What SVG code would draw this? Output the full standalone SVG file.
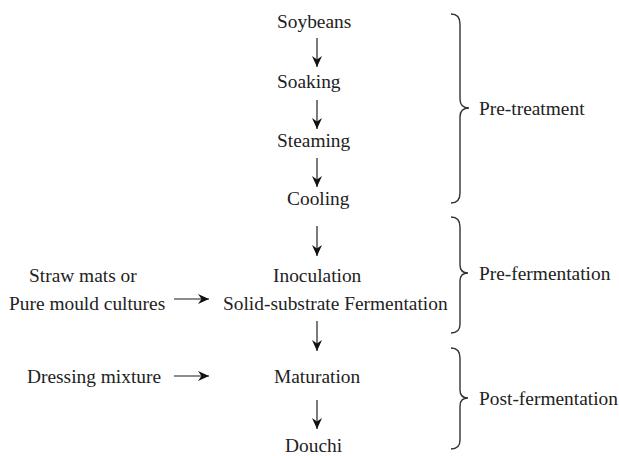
<svg xmlns="http://www.w3.org/2000/svg" width="619" height="456" viewBox="0 0 619 456">
<style>
text{font-family:"Liberation Serif","Times New Roman",serif;font-size:19.4px;fill:#222}
.c{stroke:#333;stroke-width:1.3;fill:none}
.h{stroke:#666;stroke-width:1.3;fill:none}
.b{stroke:#333;stroke-width:1.4;fill:none}
</style>
<defs>
<marker id="ah" viewBox="-11 -5 11 10" refX="0" refY="0" markerWidth="11" markerHeight="10" markerUnits="userSpaceOnUse" orient="auto">
<path d="M0,0 L-11,-5 L-7.5,0 L-11,5 Z" fill="#111"/>
</marker>
</defs>
<rect width="619" height="456" fill="#fff"/>
<g id="soybeans"><text x="277" y="28">Soybeans</text></g>
<g id="soaking"><text x="277" y="88">Soaking</text></g>
<g id="steaming"><text x="277" y="147">Steaming</text></g>
<g id="cooling"><text x="287" y="205">Cooling</text></g>
<g id="inoculation"><text x="273" y="282">Inoculation</text><text x="223" y="310">Solid-substrate Fermentation</text></g>
<g id="maturation"><text x="274" y="383">Maturation</text></g>
<g id="douchi"><text x="285" y="451.5">Douchi</text></g>
<g id="straw"><text x="29" y="282">Straw mats or</text><text x="9" y="310">Pure mould cultures</text></g>
<g id="dressing"><text x="27" y="383">Dressing mixture</text></g>
<g id="pretreatment"><path class="b" d="M451,14 Q460,14 460,24 L460,99 Q460,108 469,108 Q460,108 460,117 L460,193 Q460,203 451,203"/><text x="479" y="115">Pre-treatment</text></g>
<g id="prefermentation"><path class="b" d="M451,217 Q460,217 460,227 L460,265 Q460,273 468,273 Q460,273 460,281 L460,324 Q460,333 451,333"/><text x="479" y="280">Pre-fermentation</text></g>
<g id="postfermentation"><path class="b" d="M451,348 Q460,348 460,358 L460,390 Q460,398 468,398 Q460,398 460,406 L460,440 Q460,449 451,449"/><text x="479" y="405">Post-fermentation</text></g>
<g id="connectors">
<line class="c" x1="317" y1="38" x2="317" y2="67" marker-end="url(#ah)"/>
<line class="c" x1="317" y1="100" x2="317" y2="129" marker-end="url(#ah)"/>
<line class="c" x1="317" y1="158" x2="317" y2="187" marker-end="url(#ah)"/>
<line class="c" x1="317" y1="226" x2="317" y2="256" marker-end="url(#ah)"/>
<line class="c" x1="317" y1="321" x2="317" y2="351" marker-end="url(#ah)"/>
<line class="c" x1="317" y1="400" x2="317" y2="429" marker-end="url(#ah)"/>
<line class="h" x1="174" y1="299" x2="209" y2="299" marker-end="url(#ah)"/>
<line class="h" x1="174" y1="376" x2="209" y2="376" marker-end="url(#ah)"/>
</g>
</svg>
